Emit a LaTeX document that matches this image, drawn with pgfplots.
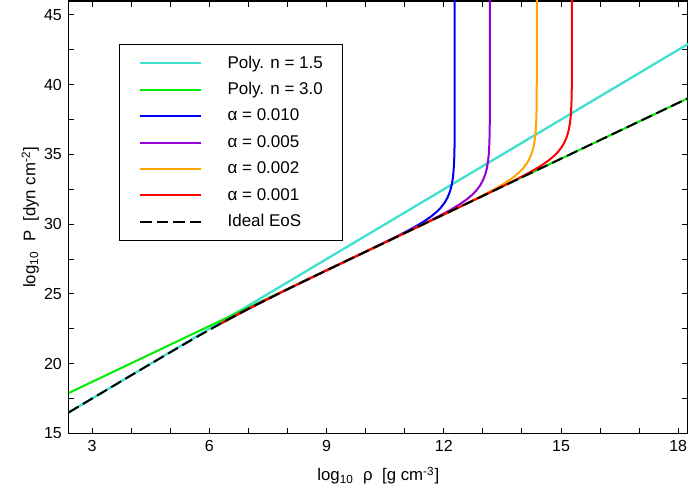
\documentclass[border=0pt]{standalone}
\usepackage{fontspec}
\setmainfont{Liberation Sans}
\usepackage{pgfplots}
\pgfplotsset{compat=1.18}
\definecolor{polyA}{RGB}{64,224,208}
\definecolor{polyB}{RGB}{0,235,0}
\definecolor{aBlue}{RGB}{0,0,240}
\definecolor{aPurple}{RGB}{148,0,211}
\definecolor{aOrange}{RGB}{255,165,0}
\definecolor{aRed}{RGB}{255,0,0}
\newcommand{\lab}{\fontsize{8}{9.6}\selectfont}
\newcommand{\axlab}{\fontsize{8.4}{10}\selectfont}
\begin{document}
\begin{tikzpicture}
\begin{axis}[
    name=ax,
    scale only axis,
    width=309.75pt, height=216.25pt,
    xmin=2.4, xmax=18.25, ymin=15, ymax=46,
    xtick={3,6,...,18}, ytick={15,20,...,45},
    minor x tick num=2, minor y tick num=1,
    tick align=inside,
    major tick length=2.8pt, minor tick length=2.8pt,
    axis line style={line width=0.65pt},
    every tick/.style={black, line width=0.5pt},
    tick label style={font=\lab},
    /pgf/number format/assume math mode=true,
    xticklabel style={anchor=base, yshift=-9.1pt},
    yticklabel style={anchor=east, inner sep=0pt, xshift=-3.2pt},
    xlabel={log\textsubscript{10}\ \ ρ\ \ [g cm\textsuperscript{-3}]},
    ylabel={log\textsubscript{10}\ \ P\ \ [dyn cm\textsuperscript{-2}]},
    xlabel style={at={(axis description cs:0.5,-0.1098)}, anchor=base, font=\axlab},
    ylabel style={at={(axis description cs:-0.0536,0.5)}, anchor=base, font=\axlab},
    legend style={at={(0.0812,0.9006)}, anchor=north west, draw=black, line width=0.5pt,
        inner xsep=10pt, inner ysep=5.6pt, row sep=5.5pt, font=\fontsize{8.5}{10}\selectfont,
        nodes={inner sep=0pt, text height=6.2pt, text depth=1.5pt}},
    legend cell align=left,
    legend image code/.code={\draw[line width=1pt,#1] (0pt,0pt) -- (30.5pt,0pt); \path (43pt,0pt);},
    every axis plot/.append style={line width=1pt, line join=round},
]
% polytropes
\addplot[polyA, line width=1.15pt] coordinates {(2.4,16.499) (18.25,42.916)};
\addlegendentry{Poly. n = 1.5}
\addplot[polyB] coordinates {(2.4,17.893) (18.25,39.026)};
\addlegendentry{Poly. n = 3.0}
% alpha = 0.010
\addplot[aBlue] coordinates {
(6.3,22.884) (6.5,23.187) (6.75,23.561) (7,23.927) (7.5,24.640) (8,25.332) (8.5,26.013)
(9,26.687) (9.5,27.357) (10,28.025)
(10.78,29.099) (11.08,29.533) (11.28,29.841) (11.48,30.175) (11.68,30.561) (11.83,30.913)
(11.93,31.203) (12.03,31.576) (12.10,31.929) (12.16,32.357) (12.20,32.779) (12.23,33.265)
(12.25,33.789) (12.265,34.499) (12.273,35.278) (12.277,36.143) (12.279,37.265) (12.2797,38.493)
(12.28,48)};
\addlegendentry{α = 0.010}
% alpha = 0.005
\addplot[aPurple] coordinates {
(6.3,22.884) (6.5,23.187) (6.75,23.561) (7,23.927) (7.5,24.640) (8,25.332) (8.5,26.013)
(9,26.687) (9.5,27.357) (10,28.025) (11,29.359)
(11.68,30.299) (11.98,30.733) (12.18,31.041) (12.38,31.375) (12.58,31.761) (12.73,32.113)
(12.83,32.403) (12.93,32.776) (13.00,33.129) (13.06,33.557) (13.10,33.979) (13.13,34.465)
(13.15,34.989) (13.165,35.699) (13.173,36.478) (13.177,37.343) (13.179,38.465) (13.1797,39.693)
(13.18,48)};
\addlegendentry{α = 0.005}
% alpha = 0.002
\addplot[aOrange] coordinates {
(6.3,22.884) (6.5,23.187) (6.75,23.561) (7,23.927) (7.5,24.640) (8,25.332) (8.5,26.013)
(9,26.687) (9.5,27.357) (10,28.025) (11,29.359) (12,30.693)
(12.88,31.899) (13.18,32.333) (13.38,32.641) (13.58,32.975) (13.78,33.361) (13.93,33.713)
(14.03,34.003) (14.13,34.376) (14.20,34.729) (14.26,35.157) (14.30,35.579) (14.33,36.065)
(14.35,36.589) (14.365,37.299) (14.373,38.078) (14.377,38.943) (14.379,40.065) (14.3797,41.293)
(14.38,48)};
\addlegendentry{α = 0.002}
% alpha = 0.001
\addplot[aRed] coordinates {
(6.3,22.884) (6.5,23.187) (6.75,23.561) (7,23.927) (7.5,24.640) (8,25.332) (8.5,26.013)
(9,26.687) (9.5,27.357) (10,28.025) (11,29.359) (12,30.693) (13,32.026)
(13.78,33.099) (14.08,33.533) (14.28,33.841) (14.48,34.175) (14.68,34.561) (14.83,34.913)
(14.93,35.203) (15.03,35.576) (15.10,35.929) (15.16,36.357) (15.20,36.779) (15.23,37.265)
(15.25,37.789) (15.265,38.499) (15.273,39.278) (15.277,40.143) (15.279,41.265) (15.2797,42.493)
(15.28,48)};
\addlegendentry{α = 0.001}
% ideal degenerate electron gas
\addplot[black, dash pattern=on 5.75pt off 2.5pt] coordinates {
(2.4,16.499) (3,17.498) (3.5,18.330) (4,19.161) (4.5,19.989) (5,20.812) (5.5,21.624)
(5.75,22.024) (6,22.419) (6.3,22.884) (6.5,23.187) (6.75,23.561) (7,23.927) (7.5,24.640)
(8,25.332) (8.5,26.013) (9,26.687) (9.5,27.357) (10,28.025) (11,29.359) (12,30.693)
(14,33.360) (16,36.026) (18.25,39.026)};
\addlegendentry{Ideal EoS}
\end{axis}
\pgfresetboundingbox
\path[use as bounding box] ([xshift=-34.35pt,yshift=-30.25pt]ax.south west) rectangle ([yshift=0.5pt]ax.north east);
\end{tikzpicture}
\end{document}
